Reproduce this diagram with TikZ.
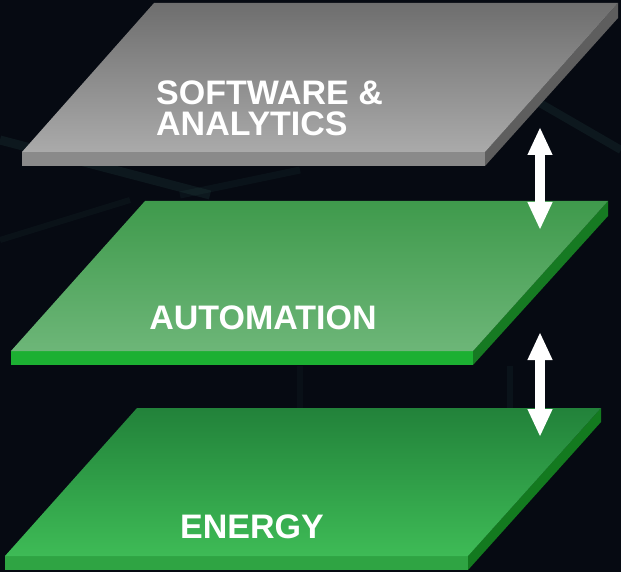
\documentclass[tikz,border=0pt]{standalone}
\usepackage{fontspec}
\setmainfont{Liberation Sans}
\usepackage{xcolor}
\usepackage{tikz}
\usetikzlibrary{arrows.meta}

\definecolor{bgdark}{HTML}{060A12}
\definecolor{streak}{HTML}{2E5A55}
\definecolor{grayhi}{HTML}{6E6E6E}
\definecolor{graylo}{HTML}{AAAAAA}
\definecolor{grayfront}{HTML}{8A8A8A}
\definecolor{grayside}{HTML}{5E5E5E}
\definecolor{midhi}{HTML}{3F9A4C}
\definecolor{midlo}{HTML}{6DB678}
\definecolor{midfront}{HTML}{1CB032}
\definecolor{midside}{HTML}{167A22}
\definecolor{lowhi}{HTML}{22823A}
\definecolor{lowlo}{HTML}{3EBB56}
\definecolor{lowfront}{HTML}{2FA443}
\definecolor{lowside}{HTML}{137A1F}

\begin{document}
\begin{tikzpicture}[x=1pt,y=-1pt,
  slabtext/.style={text=white,inner sep=0pt,font=\fontsize{34}{31}\selectfont\bfseries},
  updown/.style={white,line width=10pt,{Triangle[length=28pt,width=23pt]}-{Triangle[length=28pt,width=23pt]}}]
% background
\fill[bgdark] (0,0) rectangle (621,572);
\useasboundingbox (0,0) rectangle (621,572);
\draw[streak,line width=9pt,opacity=0.18] (0,140) -- (210,195);
\draw[streak,line width=8pt,opacity=0.18] (500,80) -- (621,150);
\draw[streak,line width=7pt,opacity=0.12] (180,195) -- (300,170);
\draw[streak,line width=6pt,opacity=0.1] (0,240) -- (130,200);
\draw[streak,line width=6pt,opacity=0.12] (510,366) -- (510,408);
\draw[streak,line width=6pt,opacity=0.08] (300,366) -- (300,408);

% Energy slab
\fill[lowside] (601,408) -- (601,422) -- (468,570) -- (468,556) -- cycle;
\fill[lowfront] (5,556) rectangle (468,570);
\shade[top color=lowhi,bottom color=lowlo] (137,408) -- (601,408) -- (468,556) -- (5,556) -- cycle;
\node[slabtext] (energy) at (252,527) {ENERGY};

% Automation slab
\fill[midside] (608,201) -- (608,216) -- (473,365) -- (473,351) -- cycle;
\fill[midfront] (11,351) rectangle (473,365);
\shade[top color=midhi,bottom color=midlo] (145,201) -- (608,201) -- (473,351) -- (11,351) -- cycle;
\node[slabtext] (auto) at (263,318) {AUTOMATION};

% Software slab
\fill[grayside] (618,3) -- (618,18) -- (485,166) -- (485,152) -- cycle;
\fill[grayfront] (22,152) rectangle (485,166);
\shade[top color=grayhi,bottom color=graylo] (154,3) -- (618,3) -- (485,152) -- (22,152) -- cycle;
\node[slabtext,align=left,anchor=west] (soft) at (156,108) {SOFTWARE \&\\ANALYTICS};

% arrows between layers
\coordinate (up1) at (540,127);
\coordinate (dn1) at (540,230);
\coordinate (up2) at (540,332);
\coordinate (dn2) at (540,437);
\draw[updown] (up1) -- (dn1);
\draw[updown] (up2) -- (dn2);
\end{tikzpicture}
\end{document}
